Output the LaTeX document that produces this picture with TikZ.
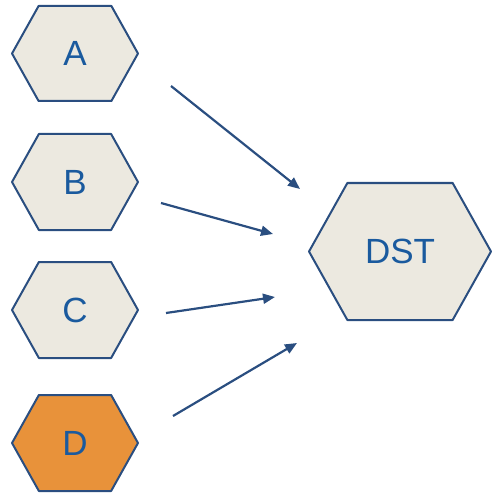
\documentclass[tikz,border=0pt]{standalone}
\usepackage{fontspec}
\setmainfont{Liberation Sans}
\usetikzlibrary{arrows.meta}
\definecolor{hexfill}{HTML}{ECE9E0}
\definecolor{hexline}{HTML}{2A4E80}
\definecolor{hextext}{HTML}{1A5A9E}
\definecolor{hexorange}{HTML}{E8923A}
\pgfdeclarelayer{background}
\pgfsetlayers{background,main}
\tikzset{
  hexnode/.style={inner sep=0pt, text=hextext, font=\fontsize{35}{40}\selectfont},
  hexline/.style={draw=hexline, line width=2pt, line join=round},
  conn/.style={draw=hexline, line width=2.2pt, -{Triangle[length=12pt,width=10pt]}}
}
\newcommand{\hexdraw}[4]{% name, fill, halfw, halfh, offset fixed ratio
  \begin{pgfonlayer}{background}
  \path[hexline, fill=#2]
    ([xshift=-#3pt]#1.center) -- ([xshift=-#3pt+0.56*#4pt, yshift=#4pt]#1.center)
    -- ([xshift=#3pt-0.56*#4pt, yshift=#4pt]#1.center) -- ([xshift=#3pt]#1.center)
    -- ([xshift=#3pt-0.56*#4pt, yshift=-#4pt]#1.center) -- ([xshift=-#3pt+0.56*#4pt, yshift=-#4pt]#1.center) -- cycle;
  \end{pgfonlayer}}
\begin{document}
\begin{tikzpicture}[x=1pt,y=-1pt]
\useasboundingbox (0,0) rectangle (491,494);
\node[hexnode] (A) at (75,53.5) {A};
\node[hexnode] (B) at (75,182) {B};
\node[hexnode] (C) at (75,310) {C};
\node[hexnode] (D) at (75,443) {D};
\node[hexnode] (DST) at (400,251.5) {DST};
\hexdraw{A}{hexfill}{63}{47.5}
\hexdraw{B}{hexfill}{63}{48}
\hexdraw{C}{hexfill}{63}{48}
\hexdraw{D}{hexorange}{63}{48}
\hexdraw{DST}{hexfill}{91}{68.5}
\coordinate (a1) at (171,86);  \coordinate (a2) at (300,189);
\coordinate (b1) at (161,203); \coordinate (b2) at (273,234);
\coordinate (c1) at (166,313); \coordinate (c2) at (275,297);
\coordinate (d1) at (173,416); \coordinate (d2) at (297,343);
\draw[conn] (a1) -- (a2);
\draw[conn] (b1) -- (b2);
\draw[conn] (c1) -- (c2);
\draw[conn] (d1) -- (d2);
\end{tikzpicture}
\end{document}
